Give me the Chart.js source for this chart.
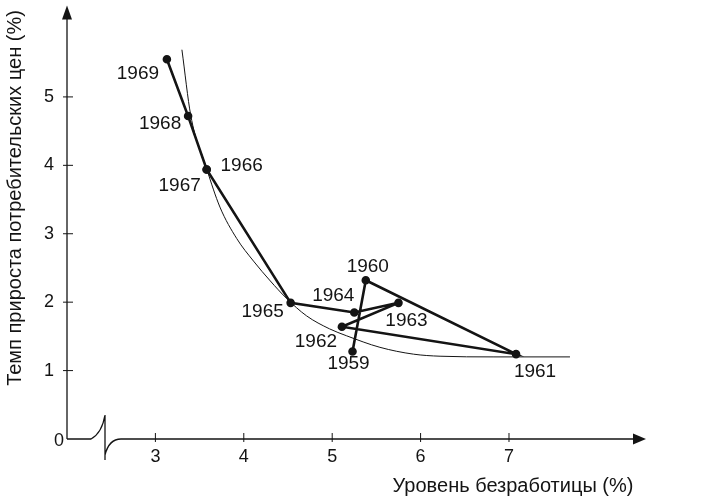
<!DOCTYPE html>
<html>
<head>
<meta charset="utf-8">
<script src="https://cdn.jsdelivr.net/npm/chart.js@4.4.1/dist/chart.umd.min.js"></script>
<style>
  html, body { margin: 0; padding: 0; background: #fff; }
  #wrap { width: 720px; height: 496px; }
</style>
</head>
<body>
<div id="wrap"><canvas id="phillipsChart"></canvas></div>
<script>
// годы и точки (уровень безработицы, темп прироста цен)
var years = ['1959', '1960', '1961', '1962', '1963', '1964', '1965', '1966', '1967', '1968', '1969'];
var unemployment = [5.23, 5.38, 7.08, 5.11, 5.75, 5.25, 4.53, 3.58, 3.58, 3.37, 3.13];
var inflation = [1.28, 2.32, 1.24, 1.64, 1.99, 1.85, 1.99, 3.94, 3.94, 4.72, 5.55];

// тонкая кривая Филлипса
var curveX = [3.30, 3.40, 3.58, 3.73, 3.92, 4.11, 4.30, 4.48, 4.71, 4.97, 5.16, 5.54, 5.92, 6.22, 6.82, 7.69];
var curveY = [5.69, 4.73, 3.95, 3.39, 2.93, 2.60, 2.31, 2.06, 1.80, 1.61, 1.51, 1.34, 1.24, 1.21, 1.20, 1.20];

var xTicks = [3, 4, 5, 6, 7];
var yTicks = [1, 2, 3, 4, 5];

var xTitle = 'Уровень безработицы (%)';
var yTitle = 'Темп прироста потребительских цен (%)';

// смещения подписей годов относительно точек (px)
var labelOffsets = [[-4, 12], [2, -14], [19, 18], [-26, 15], [8, 18], [-21, -17],
                    [-28, 9], [35, -4], [-27, 16], [-28, 8], [-29, 14]];

var ink = '#141414';
var fontName = '"Liberation Sans", Arial, sans-serif';

function toPoints(xs, ys) {
    var pts = [];
    for (var i = 0; i < xs.length; i++) {
        pts.push({ x: xs[i], y: ys[i] });
    }
    return pts;
}

// оси со стрелками, разрыв оси X, засечки, подписи
var axesPlugin = {
    id: 'axesPlugin',
    afterDraw: function (chart) {
        var ctx = chart.ctx;
        var area = chart.chartArea;
        var xs = chart.scales.x;
        var ys = chart.scales.y;
        var L = area.left, B = area.bottom, T = area.top, R = area.right;

        ctx.save();
        ctx.strokeStyle = ink;
        ctx.fillStyle = ink;
        ctx.lineWidth = 1.3;

        // ось Y
        ctx.beginPath();
        ctx.moveTo(L, B);
        ctx.lineTo(L, T + 10);
        ctx.stroke();
        ctx.beginPath();
        ctx.moveTo(L, T - 1);
        ctx.lineTo(L - 5, T + 13);
        ctx.lineTo(L + 5, T + 13);
        ctx.closePath();
        ctx.fill();

        // ось X с разрывом
        ctx.beginPath();
        ctx.moveTo(L, B);
        ctx.lineTo(L + 24, B);
        ctx.quadraticCurveTo(L + 35, B - 6, L + 38, B - 24);
        ctx.moveTo(L + 38, B - 24);
        ctx.lineTo(L + 38, B + 21);
        ctx.moveTo(L + 38, B + 16);
        ctx.quadraticCurveTo(L + 42, B, L + 54, B);
        ctx.lineTo(R - 10, B);
        ctx.stroke();
        ctx.beginPath();
        ctx.moveTo(R, B);
        ctx.lineTo(R - 13, B - 5.5);
        ctx.lineTo(R - 13, B + 5.5);
        ctx.closePath();
        ctx.fill();

        // засечки и их подписи
        ctx.lineWidth = 1;
        ctx.font = '18px ' + fontName;
        ctx.textBaseline = 'middle';
        ctx.textAlign = 'center';
        xTicks.forEach(function (v) {
            var px = xs.getPixelForValue(v);
            ctx.beginPath();
            ctx.moveTo(px, B - 6);
            ctx.lineTo(px, B + 3);
            ctx.stroke();
            ctx.fillText(String(v), px, B + 18);
        });
        ctx.textAlign = 'right';
        yTicks.forEach(function (v) {
            var py = ys.getPixelForValue(v);
            ctx.beginPath();
            ctx.moveTo(L - 4, py);
            ctx.lineTo(L + 6, py);
            ctx.stroke();
            ctx.fillText(String(v), L - 13, py);
        });
        // ноль в углу
        ctx.fillText('0', L - 3, ys.getPixelForValue(0) + 2);

        // подписи годов
        var meta = chart.getDatasetMeta(0);
        ctx.font = '19px ' + fontName;
        ctx.textAlign = 'center';
        for (var i = 0; i < years.length; i++) {
            var p = meta.data[i];
            ctx.fillText(years[i], p.x + labelOffsets[i][0], p.y + labelOffsets[i][1]);
        }

        // названия осей
        ctx.font = '20px ' + fontName;
        ctx.fillText(xTitle, 513, 486);
        ctx.translate(15, 198);
        ctx.rotate(-Math.PI / 2);
        ctx.fillText(yTitle, 0, 0);
        ctx.restore();
    }
};

var context = document.getElementById('phillipsChart').getContext('2d');
var phillipsChart = new Chart(context, {
    type: 'scatter',
    data: {
        datasets: [{
            label: 'Годы',
            data: toPoints(unemployment, inflation),
            showLine: true,
            borderColor: ink,
            borderWidth: 2.6,
            pointRadius: 3,
            pointBackgroundColor: ink,
            pointBorderColor: ink,
            tension: 0
        }, {
            label: 'Кривая',
            data: toPoints(curveX, curveY),
            showLine: true,
            borderColor: ink,
            borderWidth: 1,
            pointRadius: 0,
            cubicInterpolationMode: 'monotone'
        }]
    },
    options: {
        responsive: true,
        maintainAspectRatio: false,
        devicePixelRatio: 1,
        animation: false,
        layout: {
            padding: { left: 0, right: 74, top: 3, bottom: 0 }
        },
        plugins: {
            legend: { display: false },
            tooltip: { enabled: false }
        },
        scales: {
            x: {
                type: 'linear',
                min: 2,
                max: 8.55,
                grid: { display: false },
                border: { display: false },
                ticks: { display: false },
                afterFit: function (s) { s.height = 57; }
            },
            y: {
                type: 'linear',
                min: 0,
                max: 6.32,
                grid: { display: false },
                border: { display: false },
                ticks: { display: false },
                afterFit: function (s) { s.width = 67; }
            }
        }
    },
    plugins: [axesPlugin]
});
</script>
</body>
</html>
